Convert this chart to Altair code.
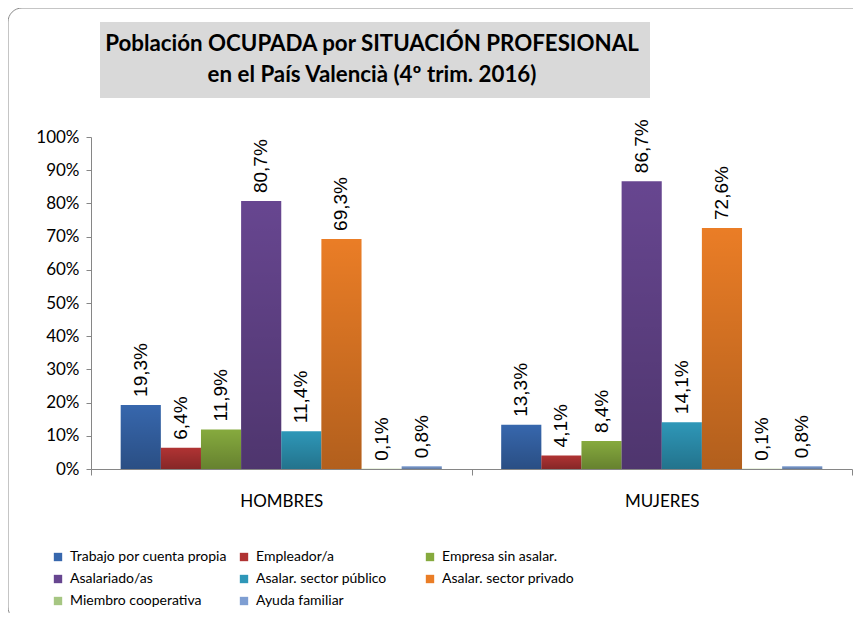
import altair as alt
import pandas as pd

GROUPS = ["HOMBRES", "MUJERES"]
SERIES = [
    "Trabajo por cuenta propia",
    "Empleador/a",
    "Empresa sin asalar.",
    "Asalariado/as",
    "Asalar. sector público",
    "Asalar. sector privado",
    "Miembro cooperativa",
    "Ayuda familiar",
]
HOMBRES_VALUES = [19.3, 6.4, 11.9, 80.7, 11.4, 69.3, 0.1, 0.8]
MUJERES_VALUES = [13.3, 4.1, 8.4, 86.7, 14.1, 72.6, 0.1, 0.8]
COLORS = ["#3767AD", "#B03333", "#86AA3E", "#674690", "#2E97B8", "#EA7D26", "#A6C682", "#7E9ED2"]
Y_TICKS = [0, 10, 20, 30, 40, 50, 60, 70, 80, 90, 100]
TITLE_LINES = ["Población OCUPADA por SITUACIÓN PROFESIONAL", "en el País Valencià (4º trim. 2016)"]

rows = []
for g, vals in zip(GROUPS, [HOMBRES_VALUES, MUJERES_VALUES]):
    for s, v in zip(SERIES, vals):
        rows.append({"grupo": g, "serie": s, "valor": v})
df = pd.DataFrame(rows)

FONT = "Lato"
AX = "#868686"

x_enc = alt.X("grupo:N", sort=GROUPS,
              scale=alt.Scale(paddingInner=0, paddingOuter=0),
              axis=alt.Axis(title=None, labelAngle=0, tickBand="extent", tickSize=6,
                            domainColor=AX, tickColor=AX, labelFont=FONT, labelFontSize=17,
                            labelColor="#000000", labelPadding=18))
xo_enc = alt.XOffset("serie:N", sort=SERIES, scale=alt.Scale(paddingInner=0, paddingOuter=0.74))
y_enc = alt.Y("valor:Q", scale=alt.Scale(domain=[0, 100], nice=False),
              axis=alt.Axis(title=None, values=Y_TICKS, tickCount=11,
                            labelExpr="datum.value + '%'", grid=False,
                            labelOverlap=False, tickSize=5, domainColor=AX, tickColor=AX,
                            labelFont=FONT, labelFontSize=17, labelColor="#000000",
                            labelPadding=7))

base = alt.Chart(df)

bars = base.mark_bar().encode(
    x=x_enc, xOffset=xo_enc, y=y_enc,
    color=alt.Color("serie:N", sort=SERIES,
                    scale=alt.Scale(domain=SERIES, range=COLORS),
                    legend=alt.Legend(title=None, orient="none", legendX=-40, legendY=413,
                                      direction="horizontal", columns=3, gridAlign="all",
                                      symbolType="square", symbolSize=70, symbolStrokeWidth=0,
                                      labelFont=FONT, labelFontSize=14, labelColor="#000000",
                                      labelOffset=5, columnPadding=10, rowPadding=8,
                                      labelLimit=300)),
)

shade = base.mark_bar(color=alt.LinearGradient(
    gradient="linear", x1=0, x2=0, y1=0, y2=1,
    stops=[alt.GradientStop(color="rgba(0,0,0,0)", offset=0),
           alt.GradientStop(color="rgba(0,0,0,0.24)", offset=1)])).encode(
    x=x_enc, xOffset=xo_enc, y=y_enc)

labels = base.transform_calculate(
    etiqueta="replace(format(datum.valor, '.1f'), '.', ',') + '%'"
).mark_text(angle=270, align="left", baseline="middle", dx=8, font="Liberation Sans",
            fontSize=19, color="#000000").encode(
    x=x_enc, xOffset=xo_enc, y=y_enc, text="etiqueta:N")

dummy = alt.Chart(pd.DataFrame({"k": [0]}))

border = dummy.mark_rect(filled=False, stroke="#8C8C8C", strokeWidth=1, cornerRadius=14).encode(
    x=alt.value(-83), x2=alt.value(800), y=alt.value(-129), y2=alt.value(484))

title_box = dummy.mark_rect(color="#D9D9D9").encode(
    x=alt.value(9), x2=alt.value(559), y=alt.value(-115), y2=alt.value(-39))

title_text = dummy.mark_text(text=TITLE_LINES, font=FONT, fontSize=22.3, fontWeight="bold",
                             color="#000000", align="center", baseline="middle",
                             lineHeight=31).encode(
    x=alt.value(281), y=alt.value(-93))

chart = alt.layer(border, title_box, title_text, bars, shade, labels).properties(
    width=761, height=332,
    autosize=alt.AutoSizeParams(type="none"),
    padding={"left": 83, "top": 129, "right": 1, "bottom": 144},
).configure_view(strokeWidth=0)

chart.save("out.html", embed_options={"renderer": "svg", "actions": False})
